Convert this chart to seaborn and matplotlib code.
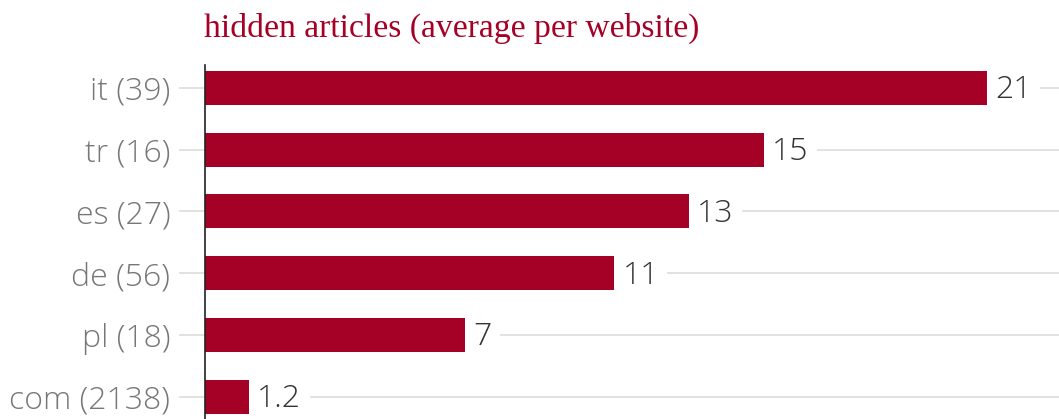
import matplotlib
matplotlib.use("Agg")
import matplotlib.pyplot as plt
import seaborn as sns
import pandas as pd

categories = ["it (39)", "tr (16)", "es (27)", "de (56)", "pl (18)", "com (2138)"]
values = [21, 15, 13, 11, 7, 1.2]
value_labels = ["21", "15", "13", "11", "7", "1.2"]
title = "hidden articles (average per website)"

sns.set_theme(style="white")
plt.rcParams['font.family'] = ['Open Sans', 'DejaVu Sans']

df = pd.DataFrame({"cat": categories, "val": values})

W, H = 1059, 419
fig = plt.figure(figsize=(W / 100, H / 100), dpi=100)
ax = fig.add_axes([205 / W, 0, 1 - 205 / W, 1 - 65 / H])

sns.barplot(data=df, y="cat", x="val", color="#a50026", saturation=1,
            width=0.55, ax=ax, zorder=3, edgecolor="none")

ax.set_xlim(0, 22.9)
ax.set_ylim(5.36, -0.37)
for i in range(len(categories)):
    ax.axhline(i, color="#dddddd", lw=1.2, zorder=1)

for i, (v, lab) in enumerate(zip(values, value_labels)):
    ax.text(v + 0.2, i + 0.04, lab, va="center", ha="left", fontsize=23,
            fontweight="light", color="#333333", zorder=4,
            bbox=dict(facecolor="white", edgecolor="none", pad=6))

ax.set_xlabel("")
ax.set_ylabel("")
ax.set_xticks([])
ax.tick_params(axis="y", length=19, width=1.2, color="#dddddd", pad=6,
               labelsize=23, labelcolor="#777777", left=True)
for t in ax.get_yticklabels():
    t.set_fontweight("light")

for s in ["top", "right", "bottom"]:
    ax.spines[s].set_visible(False)
ax.spines["left"].set_color("#222222")
ax.spines["left"].set_linewidth(1.2)
ax.spines["left"].set_zorder(5)

fig.text(204 / W, 1 - 28 / H, title, family=["Liberation Serif"], fontsize=24.2,
         color="#a50026", ha="left", va="center")

fig.savefig("out.png", dpi=100)
